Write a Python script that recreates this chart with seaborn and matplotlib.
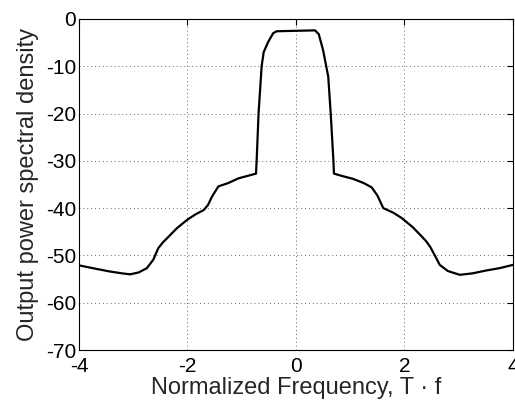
import matplotlib
matplotlib.use("Agg")
import matplotlib.pyplot as plt
import seaborn as sns
import pandas as pd

freq = [-4.00, -3.70, -3.43, -3.20, -3.06, -2.90, -2.75, -2.63, -2.54, -2.45, -2.38,
        -2.20, -2.01, -1.85, -1.70, -1.62, -1.55, -1.43, -1.25, -1.06, -0.90, -0.737,
        -0.725, -0.69, -0.633, -0.595, -0.51, -0.42, -0.356, -0.20, 0.00, 0.20, 0.35,
        0.42, 0.50, 0.595, 0.64, 0.69, 0.70, 0.85, 1.05, 1.25, 1.395, 1.50, 1.61,
        1.80, 1.95, 2.15, 2.32, 2.40, 2.47, 2.56, 2.65, 2.80, 3.02, 3.25, 3.50, 3.75, 4.00]
psd = [-52.1, -52.8, -53.4, -53.8, -54.0, -53.6, -52.7, -50.9, -48.5, -47.2, -46.4,
       -44.3, -42.5, -41.3, -40.4, -39.3, -37.6, -35.4, -34.7, -33.7, -33.2, -32.7,
       -30.0, -20.0, -10.0, -7.0, -4.8, -3.0, -2.6, -2.55, -2.5, -2.45, -2.4,
       -3.2, -6.6, -12.2, -19.9, -29.9, -32.7, -33.2, -33.8, -34.7, -35.6, -37.3, -40.0,
       -41.0, -42.1, -44.0, -46.0, -47.0, -48.1, -50.0, -52.0, -53.3, -54.1, -53.8, -53.2, -52.7, -52.0]

xticks = [-4, -2, 0, 2, 4]
yticks = [0, -10, -20, -30, -40, -50, -60, -70]

df = pd.DataFrame({"f": freq, "psd": psd})

sns.set_style("white")
plt.rcParams["font.family"] = ["Liberation Sans", "DejaVu Sans"]

fig = plt.figure(figsize=(5.15, 4.03), dpi=100)
ax = fig.add_axes([0.1534, 0.1315, 0.996 - 0.1534, 0.9529 - 0.1315])
sns.lineplot(data=df, x="f", y="psd", ax=ax, color="black", linewidth=1.6, sort=False)

ax.set_xlim(-4, 4)
ax.set_ylim(-70, 0)
ax.set_xticks(xticks)
ax.set_yticks(yticks)
ax.set_xticklabels([str(t) for t in xticks])
ax.set_yticklabels([str(t) for t in yticks])
ax.tick_params(direction="in", length=4, width=0.8, labelsize=15, top=True, right=True,
               colors="black")
ax.tick_params(axis="y", pad=2)
ax.tick_params(axis="x", pad=5)
ax.grid(True, linestyle=(0, (1, 3)), color="black", linewidth=0.7, alpha=0.6)
for s in ax.spines.values():
    s.set_visible(True)
    s.set_color("black")
    s.set_linewidth(0.8)
ax.set_xlabel("Normalized Frequency, T \u00b7 f", fontsize=17, labelpad=1)
ax.set_ylabel("Output power spectral density", fontsize=17, labelpad=5)

fig.savefig("out.png", dpi=100)
